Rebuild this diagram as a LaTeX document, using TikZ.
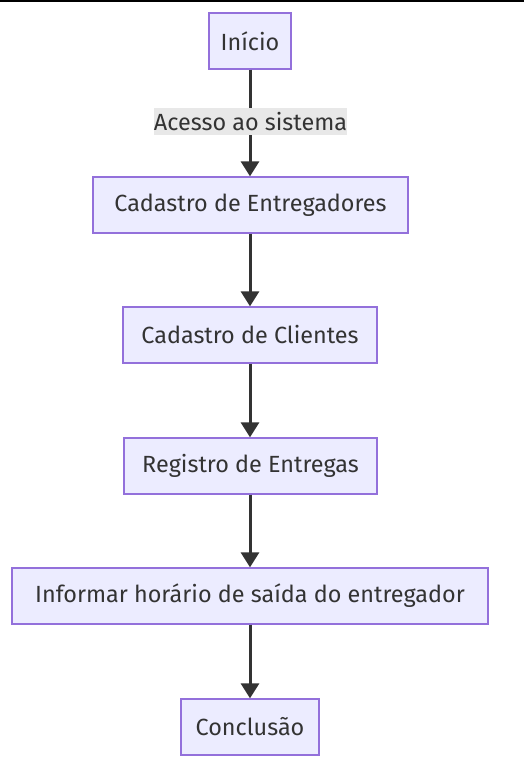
\documentclass[tikz,border=0pt]{standalone}
\usepackage{fontspec}
\setmainfont{Fira Sans}
\usetikzlibrary{arrows.meta}
\definecolor{nodefill}{HTML}{ECECFF}
\definecolor{nodeline}{HTML}{9370DB}
\definecolor{ink}{HTML}{333333}
\definecolor{lblbg}{HTML}{E8E8E8}
\tikzset{
  txt/.style={font=\fontsize{23.4}{27}\selectfont},
  box/.style={draw=nodeline, fill=nodefill, line width=1.3pt, minimum height=56pt, inner sep=0pt, text=ink, txt},
  flow/.style={draw=ink, line width=3pt, -{Triangle[length=15pt,width=18pt]}},
  lbl/.style={fill=lblbg, text=ink, inner sep=0pt, minimum width=193pt, minimum height=27pt, txt}
}
\begin{document}
\begin{tikzpicture}[x=1pt,y=-1pt]
\fill[white] (0,0) rectangle (524,771);
\useasboundingbox (0,0) rectangle (524,771);
\fill[black] (0,0) rectangle (524,2);
\node[box, minimum width=82pt] (inicio) at (250,41) {Início};
\node[box, minimum width=315pt] (ce) at (250.5,205) {Cadastro de Entregadores};
\node[box, minimum width=254pt] (cc) at (250,335) {Cadastro de Clientes};
\node[box, minimum width=253pt] (re) at (250.5,466) {Registro de Entregas};
\node[box, minimum width=476pt] (inf) at (250,596) {Informar horário de saída do entregador};
\node[box, minimum width=138pt] (con) at (250,727) {Conclusão};
\draw[flow] (inicio.south) -- (inicio.south |- ce.north);
\node[lbl] (l1) at (250.5,121.5) {Acesso ao sistema};
\draw[flow] (ce.south -| cc.north) -- (cc.north);
\draw[flow] (cc.south) -- (cc.south |- re.north);
\draw[flow] (re.south -| inf.north) -- (inf.north);
\draw[flow] (inf.south) -- (con.north);
\end{tikzpicture}
\end{document}
